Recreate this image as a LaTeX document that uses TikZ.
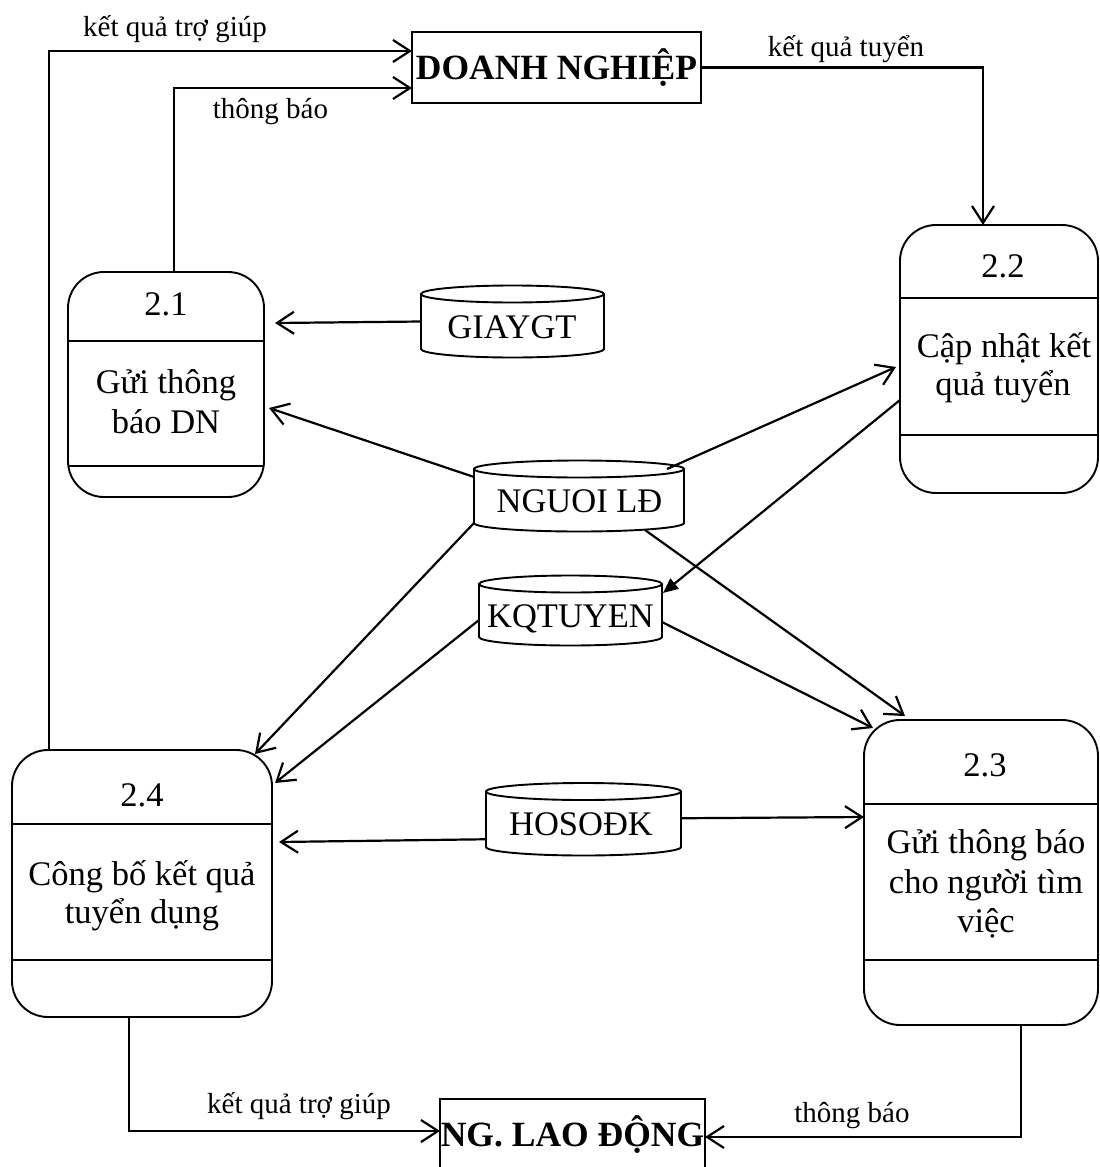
\documentclass[tikz,border=0pt]{standalone}
\usepackage{fontspec}
\setmainfont{Liberation Serif}
\usetikzlibrary{arrows.meta}

% data store: name, left, right, top-ellipse y, bottom-ellipse y
\newcommand{\cylstore}[5]{%
  \pgfmathsetmacro{\cylC}{(#2+#3)/2}%
  \pgfmathsetmacro{\cylW}{(#3-#2)/2}%
  \pgfmathsetmacro{\cylM}{(#4+#5)/2}%
  \pgfmathsetmacro{\cylWd}{#3-#2}%
  \pgfmathsetmacro{\cylHt}{#5-#4}%
  \node[inner sep=0pt, outer sep=0pt, minimum width=\cylWd pt, minimum height=\cylHt pt] (#1) at (\cylC,\cylM) {};
  \draw[store] (#2,#4) -- (#2,#5) arc[start angle=180, end angle=0, x radius=\cylW, y radius=8.5] -- (#3,#4);
  \draw[store] (\cylC,#4) ellipse[x radius=\cylW, y radius=8.5];
}

\begin{document}
\begin{tikzpicture}[x=1pt,y=-1pt,
  proc/.style={draw, line width=1.9pt, rounded corners=36pt, inner sep=0pt, outer sep=0pt},
  ext/.style={draw, line width=1.9pt, inner sep=0pt, outer sep=0pt, font=\fontsize{35.5}{40}\selectfont\bfseries},
  ptxt/.style={inner sep=0pt, font=\fontsize{34.5}{40}\selectfont},
  lbl/.style={inner sep=0pt, anchor=base, font=\fontsize{29}{34}\selectfont},
  flow/.style={line width=2.2pt, -{Straight Barb[length=17pt,width=22pt]}},
  flowfill/.style={line width=2.2pt, -{Triangle[length=15pt,width=13pt]}},
  sep/.style={line width=1.9pt},
  store/.style={line width=1.9pt},
]
\useasboundingbox (0,0) rectangle (1100,1167);

% external entities
\node[ext, minimum width=289pt, minimum height=71pt] (dn) at (556.5,67.5) {DOANH NGHIỆP};
\node[ext, minimum width=265pt, minimum height=71pt] (lao) at (572.5,1134.5) {NG. LAO ĐỘNG};

% processes
\node[proc, minimum width=196pt, minimum height=225pt] (p21) at (166,384.5) {};
\node[proc, minimum width=198pt, minimum height=268pt] (p22) at (999,359) {};
\node[proc, minimum width=234pt, minimum height=305pt] (p23) at (981,872.5) {};
\node[proc, minimum width=260pt, minimum height=267pt] (p24) at (142,883.5) {};

\draw[sep] (p21.west |- 0,341) -- (p21.east |- 0,341);
\draw[sep] (p21.west |- 0,466) -- (p21.east |- 0,466);
\draw[sep] (p22.west |- 0,298) -- (p22.east |- 0,298);
\draw[sep] (p22.west |- 0,435) -- (p22.east |- 0,435);
\draw[sep] (p23.west |- 0,804) -- (p23.east |- 0,804);
\draw[sep] (p23.west |- 0,960) -- (p23.east |- 0,960);
\draw[sep] (p24.west |- 0,824) -- (p24.east |- 0,824);
\draw[sep] (p24.west |- 0,960) -- (p24.east |- 0,960);

\node[ptxt] (n21) at (166,304) {2.1};
\node[ptxt, anchor=base] (t21a) at (166,393) {Gửi thông};
\node[ptxt, anchor=base] (t21b) at (166,433) {báo DN};

\node[ptxt] (n22) at (1003,266) {2.2};
\node[ptxt, anchor=base] (t22a) at (1004,357) {Cập nhật kết};
\node[ptxt, anchor=base] (t22b) at (1003,395) {quả tuyển};

\node[ptxt] (n23) at (985,765) {2.3};
\node[ptxt, anchor=base] (t23a) at (986,853) {Gửi thông báo};
\node[ptxt, anchor=base] (t23b) at (986,893) {cho người tìm};
\node[ptxt, anchor=base] (t23c) at (986,932) {việc};

\node[ptxt] (n24) at (142,795) {2.4};
\node[ptxt, anchor=base] (t24a) at (142,885) {Công bố kết quả};
\node[ptxt, anchor=base] (t24b) at (142,923) {tuyển dụng};

% data stores
\cylstore{giay}{421}{604}{294}{349}
\cylstore{nguoi}{474}{684}{469}{523}
\cylstore{kq}{479}{662}{584}{637}
\cylstore{ho}{486}{681}{791.5}{847}
\node[ptxt, anchor=base] (giaytxt) at (512,338) {GIAYGT};
\node[ptxt, anchor=base] (nguoitxt) at (579.5,512) {NGUOI LĐ};
\node[ptxt, anchor=base] (kqtxt) at (570.5,627) {KQTUYEN};
\node[ptxt, anchor=base] (hotxt) at (581,835) {HOSOĐK};

% flows to and from the external entities
\draw[flow] ([xshift=37pt]p24.north west) |- ([yshift=16.5pt]dn.west);
\draw[flow] ([xshift=106pt]p21.north west) |- ([yshift=-20.5pt]dn.west);
\draw[flow] (dn.east) -| ([xshift=83pt]p22.north west);
\draw[flow] ([xshift=117pt]p24.south west) |- ([yshift=3.5pt]lao.west);
\draw[flow] ([xshift=157pt]p23.south west) |- ([yshift=-2.5pt]lao.east);

\node[lbl] (l1) at (175,36) {kết quả trợ giúp};
\node[lbl] (l2) at (270.5,118) {thông báo};
\node[lbl] (l3) at (846,56) {kết quả tuyển};
\node[lbl] (l4) at (299,1113) {kết quả trợ giúp};
\node[lbl] (l5) at (852,1122) {thông báo};

% flows between stores and processes
\draw[flow] (giay.west) -- ([xshift=11pt,yshift=61.5pt]p21.east);
\draw[flow] ([yshift=19pt]nguoi.west) -- ([xshift=5pt,yshift=-23.5pt]p21.east);
\draw[flow] ([xshift=-17pt]nguoi.north east) -- ([xshift=-4pt,yshift=-8pt]p22.west);
\draw[flowfill] ([yshift=-41pt]p22.west) -- ([xshift=1pt,yshift=-9pt]kq.north east);
\draw[flow] (nguoi.south west) -- ([xshift=-17pt,yshift=-4pt]p24.north east);
\draw[flow] ([yshift=-9.5pt]kq.west) -- ([xshift=3pt,yshift=-33pt]p24.north east);
\draw[flow] ([yshift=-20pt]ho.west) -- ([xshift=7pt,yshift=41.5pt]p24.east);
\draw[flow] ([yshift=1pt]ho.east) -- ([yshift=55.5pt]p23.west);
\draw[flow] ([xshift=-39pt,yshift=-7pt]nguoi.south east) -- ([xshift=41pt,yshift=4pt]p23.north west);
\draw[flow] ([yshift=-11.5pt]kq.east) -- ([xshift=9pt,yshift=-8pt]p23.north west);
\end{tikzpicture}
\end{document}
